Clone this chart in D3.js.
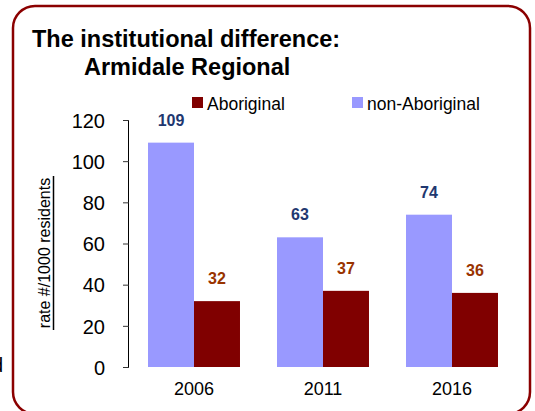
<!DOCTYPE html>
<html>
<head>
<meta charset="utf-8">
<script src="https://cdn.jsdelivr.net/npm/d3@7"></script>
<style>
  body { margin: 0; background: #fff; }
  svg { display: block; font-family: "Liberation Sans", Arial, sans-serif; }
</style>
</head>
<body>
<svg id="chart" width="535" height="411"></svg>
<script>
// data
const years = ["2006", "2011", "2016"];
const series = ["non-Aboriginal", "Aboriginal"];
const nonAboriginal = [109, 63, 74];
const aboriginal = [32, 37, 36];
const yTicks = [0, 20, 40, 60, 80, 100, 120];

const COLORS = { "non-Aboriginal": "#9999ff", "Aboriginal": "#800000" };
const LABEL_COLORS = { "non-Aboriginal": "#1f3870", "Aboriginal": "#993300" };

const rows = years.map((y, i) => ({ year: y, "non-Aboriginal": nonAboriginal[i], "Aboriginal": aboriginal[i] }));

const svg = d3.select("#chart");

// stray glyph cut off at the left edge
svg.append("text").attr("x", 3).attr("y", 372).attr("text-anchor", "end")
  .attr("font-size", 20).text("d");

// rounded frame
svg.append("rect")
  .attr("x", 13).attr("y", 6).attr("width", 517).attr("height", 408)
  .attr("rx", 22).attr("ry", 22)
  .attr("fill", "none").attr("stroke", "#8b0000").attr("stroke-width", 2.5);

// title
svg.append("text").attr("x", 32).attr("y", 47)
  .attr("font-size", 23.5).attr("font-weight", "bold").text("The institutional difference:");
svg.append("text").attr("x", 84).attr("y", 75)
  .attr("font-size", 23.5).attr("font-weight", "bold").text("Armidale Regional");

// scales
const y = d3.scaleLinear().domain([0, 120]).range([367, 120]);
const x0 = d3.scaleBand().domain(years).range([129.5, 516.5])
  .paddingInner(0.287).paddingOuter(0.1435);
const x1 = d3.scaleBand().domain(series).range([0, x0.bandwidth()]);

// y axis
const yAxis = svg.append("g").attr("transform", "translate(129,0)")
  .call(d3.axisLeft(y).tickValues(yTicks).tickSize(6).tickPadding(18));
yAxis.select(".domain").attr("stroke", "#000").attr("stroke-width", 1)
  .attr("d", `M-0.5,${y(120)}V${y(0)}`);
yAxis.selectAll(".tick line").attr("stroke", "#333");
yAxis.selectAll(".tick text").attr("font-size", 20).attr("fill", "#000")
  .attr("font-family", "'Liberation Sans', Arial, sans-serif").attr("dy", "0.36em");

// y axis title, underlined
const yTitle = svg.append("g").attr("transform", "translate(50,253) rotate(-90)");
yTitle.append("text").attr("text-anchor", "middle").attr("y", 0)
  .attr("font-size", 16).text("rate #/1000 residents");
yTitle.append("line").attr("x1", -77).attr("x2", 77).attr("y1", 3.5).attr("y2", 3.5)
  .attr("stroke", "#000").attr("stroke-width", 1.5);

// bars
const groups = svg.append("g").selectAll("g").data(rows).join("g")
  .attr("transform", d => `translate(${x0(d.year)},0)`);

groups.selectAll("rect").data(d => series.map(s => ({ key: s, value: d[s] }))).join("rect")
  .attr("x", d => x1(d.key)).attr("width", x1.bandwidth())
  .attr("y", d => y(d.value)).attr("height", d => y(0) - y(d.value))
  .attr("fill", d => COLORS[d.key]);

groups.selectAll("text.val").data(d => series.map(s => ({ key: s, value: d[s] }))).join("text")
  .attr("class", "val")
  .attr("x", d => x1(d.key) + x1.bandwidth() / 2)
  .attr("y", d => y(d.value) - 17)
  .attr("text-anchor", "middle").attr("font-size", 16).attr("font-weight", "bold")
  .attr("fill", d => LABEL_COLORS[d.key]).text(d => d.value);

// x labels
svg.append("g").selectAll("text").data(years).join("text")
  .attr("x", d => x0(d) + x0.bandwidth() / 2).attr("y", 395)
  .attr("text-anchor", "middle").attr("font-size", 18).text(d => d);

// legend
const legendItems = [
  { key: "Aboriginal", x: 192 },
  { key: "non-Aboriginal", x: 352 }
];
const legend = svg.append("g").selectAll("g").data(legendItems).join("g")
  .attr("transform", d => `translate(${d.x},97)`);
legend.append("rect").attr("width", 11).attr("height", 11).attr("fill", d => COLORS[d.key]);
legend.append("text").attr("x", 15).attr("y", 12.5).attr("font-size", 17.5).text(d => d.key);
</script>
</body>
</html>
